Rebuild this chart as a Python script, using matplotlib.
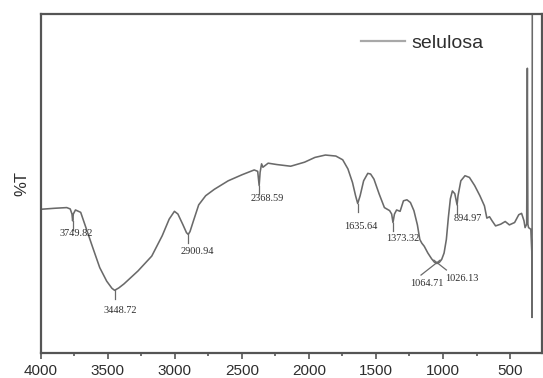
import matplotlib
matplotlib.use("Agg")
import matplotlib.pyplot as plt
from matplotlib.lines import Line2D
from matplotlib.ticker import MultipleLocator

# FTIR spectrum of cellulose (wavenumber in cm-1, transmittance in arbitrary %T units)
wavenumber = [4000, 3896, 3806, 3780, 3767, 3762, 3757, 3741, 3702, 3663, 3612, 3560,
              3508, 3469, 3449, 3418, 3379, 3275, 3172, 3094, 3042, 3003, 2977, 2939,
              2913, 2900, 2887, 2861, 2822, 2770, 2705, 2602, 2498, 2408, 2382, 2371,
              2364, 2353, 2343, 2304, 2240, 2136, 2032, 1955, 1877, 1799, 1748, 1709,
              1675, 1652, 1636, 1618, 1592, 1561, 1540, 1515, 1476, 1437, 1398, 1383,
              1373, 1362, 1346, 1320, 1295, 1269, 1243, 1217, 1191, 1173, 1158, 1140,
              1113, 1085, 1064, 1045, 1026, 1010, 992, 975, 960, 945, 930, 912, 895,
              888, 867, 836, 803, 764, 725, 691, 673, 653, 634, 608, 570, 536, 505,
              466, 435, 414, 396, 388, 376, 371, 367, 362, 345, 338, 336, 334]
transmittance = [42.4, 42.7, 42.9, 42.5, 41.0, 39.0, 41.0, 42.2, 41.5, 37.0, 31.1, 25.2,
                 21.2, 19.1, 18.5, 19.2, 20.4, 24.2, 28.6, 34.6, 39.5, 41.8, 41.0, 37.8,
                 35.5, 35.0, 35.8, 39.0, 43.7, 46.4, 48.3, 50.8, 52.6, 54.0, 53.6, 49.4,
                 53.3, 55.8, 54.8, 56.0, 55.6, 55.1, 56.3, 57.7, 58.4, 58.1, 57.0, 54.3,
                 50.3, 46.4, 44.1, 46.4, 50.8, 53.0, 52.8, 51.3, 46.9, 42.9, 42.0, 41.0,
                 38.5, 41.0, 42.2, 41.8, 44.9, 45.2, 44.4, 42.0, 37.8, 33.5, 32.4, 31.5,
                 29.5, 27.8, 26.8, 26.4, 26.8, 27.6, 29.5, 33.5, 40.0, 45.5, 47.8, 47.0,
                 43.7, 46.4, 50.8, 52.3, 51.8, 49.4, 46.4, 43.4, 39.8, 40.2, 39.0, 37.5,
                 38.0, 38.8, 37.8, 38.5, 40.8, 41.2, 39.0, 37.0, 38.0, 84.0, 38.0, 37.0,
                 36.5, 30.0, 10.5, 110.0]

# Labelled absorption bands: tick under the band, label below it
peak_labels = ["3749.82", "3448.72", "2900.94", "2368.59", "1635.64",
               "1373.32", "894.97"]
peak_x = [3762, 3449, 2900, 2371, 1636, 1373, 895]
peak_y = [39.0, 18.5, 35.0, 49.4, 44.1, 38.5, 43.7]
label_x = [3736, 3404, 2835, 2312, 1613, 1302, 816]
label_y = [35.3, 12.5, 29.9, 45.7, 37.3, 33.7, 39.8]

# Bands labelled through slanted leader lines that cross at the band minimum
leader_labels = ["1064.71", "1026.13"]
leader_start_x = [1164, 975]
leader_start_y = [23.0, 24.5]
leader_end_x = [1022, 1068]
leader_end_y = [27.4, 27.4]
leader_text_x = [1121, 860]
leader_text_y = [20.4, 22.0]

fig = plt.figure(figsize=(5.43, 3.78), dpi=100)
ax = fig.add_axes([0.075, 0.066, 0.9226, 0.897])

line_color = "#6a6a6a"
frame_color = "#555555"
text_color = "#2e2e2e"

ax.plot(wavenumber, transmittance, color=line_color, lw=1.15)

ax.set_xlim(4000, 264)
ax.set_ylim(0, 100)

for px, py, txt, tx, ty in zip(peak_x, peak_y, peak_labels, label_x, label_y):
    ax.plot([px, px], [py, py - 2.6], color=line_color, lw=0.9)
    ax.text(tx, ty, txt, ha="center", va="center", fontsize=7.4,
            family="Liberation Serif", color=text_color)

for x0, y0, x1, y1, txt, tx, ty in zip(leader_start_x, leader_start_y,
                                       leader_end_x, leader_end_y,
                                       leader_labels, leader_text_x, leader_text_y):
    ax.plot([x0, x1], [y0, y1], color=line_color, lw=0.9)
    ax.text(tx, ty, txt, ha="center", va="center", fontsize=7.4,
            family="Liberation Serif", color=text_color)

for side in ["left", "right", "top", "bottom"]:
    ax.spines[side].set_color(frame_color)
    ax.spines[side].set_linewidth(1.6)

ax.xaxis.set_major_locator(MultipleLocator(500))
ax.xaxis.set_minor_locator(MultipleLocator(250))
ax.tick_params(axis="x", which="major", direction="out", length=4, width=1.2,
               color=frame_color, labelsize=11, pad=4, labelcolor=text_color)
ax.tick_params(axis="x", which="minor", direction="out", length=2.5, width=1.2,
               color=frame_color)
ax.set_yticks([])
for lbl in ax.get_xticklabels():
    lbl.set_family("Liberation Sans")

ax.set_ylabel("%T", fontsize=12, family="Liberation Sans", color=text_color,
              labelpad=8)

handle = Line2D([], [], color="#a8a8a8", lw=1.6)
ax.legend([handle], ["selulosa"], loc="center left",
          bbox_to_anchor=(361.0 / 543, 1 - 43.5 / 378),
          bbox_transform=fig.transFigure, frameon=False,
          prop={"family": "Liberation Sans", "size": 14},
          handlelength=2.25, handletextpad=0.35, borderpad=0, borderaxespad=0,
          labelcolor=text_color)

fig.savefig("out.png", dpi=100)
